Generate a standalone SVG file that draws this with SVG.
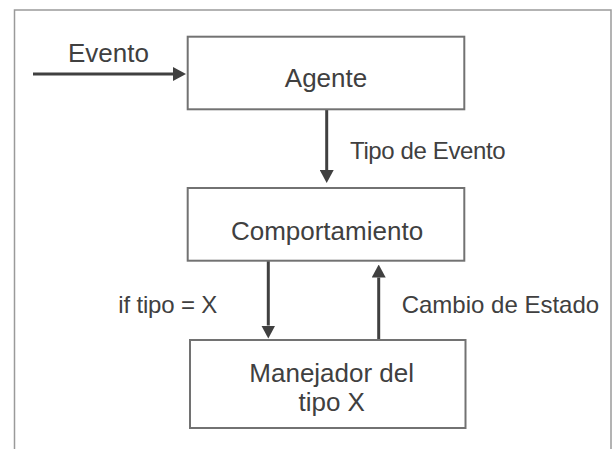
<svg xmlns="http://www.w3.org/2000/svg" width="612" height="449" viewBox="0 0 612 449">
  <style>
    .frame { fill: none; stroke: #9a9a9a; stroke-width: 1.5; }
    .box { fill: #ffffff; stroke: #727272; stroke-width: 2; }
    .conn { fill: none; stroke: #404040; stroke-width: 3; }
    .lbl { font-family: "Liberation Sans", Arial, Helvetica, sans-serif; font-size: 26px; fill: #404040; }
    .sm { font-size: 24px; }
    .mid { text-anchor: middle; }
  </style>
  <defs>
    <marker id="arrow" viewBox="0 -7 13 14" markerUnits="userSpaceOnUse" markerWidth="13" markerHeight="14" refX="0" refY="0" orient="auto">
      <path d="M0,-7 L13,0 L0,7 Z" fill="#404040"/>
    </marker>
  </defs>
  <rect width="612" height="449" fill="#ffffff"/>
  <rect class="frame" x="14.5" y="10" width="596.5" height="460"/>

  <g id="connectors">
    <g id="edge-evento">
      <path class="conn" d="M33,74 L173,74" marker-end="url(#arrow)"/>
      <text class="lbl" x="68" y="62.3">Evento</text>
    </g>
    <g id="edge-tipo">
      <path class="conn" d="M326.7,109.5 L326.7,170" marker-end="url(#arrow)"/>
      <text class="lbl sm" x="350" y="159.3" textLength="155.7" lengthAdjust="spacing">Tipo de Evento</text>
    </g>
    <g id="edge-if">
      <path class="conn" d="M268.3,261 L268.3,325.5" marker-end="url(#arrow)"/>
      <text class="lbl sm" x="118.3" y="313.3" textLength="99" lengthAdjust="spacing">if tipo = X</text>
    </g>
    <g id="edge-cambio">
      <path class="conn" d="M378.7,340 L378.7,277.5" marker-end="url(#arrow)"/>
      <text class="lbl sm" x="401.7" y="313.3">Cambio de Estado</text>
    </g>
  </g>

  <g id="agente">
    <rect class="box" x="187.7" y="36.7" width="276.6" height="72.6"/>
    <text class="lbl mid" x="326" y="87.3">Agente</text>
  </g>
  <g id="comportamiento">
    <rect class="box" x="187.7" y="188" width="276.6" height="72.7"/>
    <text class="lbl mid" x="327" y="240">Comportamiento</text>
  </g>
  <g id="manejador">
    <rect class="box" x="190" y="340" width="275.5" height="88"/>
    <text class="lbl mid" x="331.7" y="381.7">Manejador del</text>
    <text class="lbl mid" x="331.7" y="411">tipo X</text>
  </g>
</svg>
